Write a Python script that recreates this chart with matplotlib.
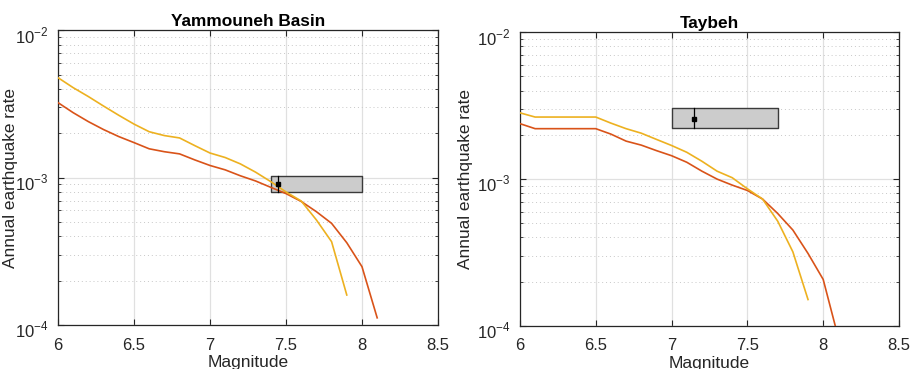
import numpy as np
import matplotlib
matplotlib.use('Agg')
import matplotlib.pyplot as plt
import matplotlib.transforms as mtransforms
from matplotlib.ticker import LogLocator, NullFormatter, FixedLocator

plt.rcParams['font.family'] = ['Liberation Sans', 'DejaVu Sans']
plt.rcParams['mathtext.fontset'] = 'custom'
plt.rcParams['mathtext.rm'] = 'Liberation Sans'

# Yammouneh Basin
mag_y = [6.0, 6.1, 6.2, 6.3, 6.4, 6.5, 6.6, 6.7, 6.8, 6.9, 7.0, 7.1, 7.2, 7.3,
         7.4, 7.5, 7.6, 7.7, 7.8, 7.9]
yam_yellow = [4.77e-3, 4.08e-3, 3.55e-3, 3.06e-3, 2.65e-3, 2.31e-3, 2.05e-3, 1.93e-3,
              1.86e-3, 1.65e-3, 1.47e-3, 1.37e-3, 1.24e-3, 1.09e-3, 9.4e-4, 8.0e-4,
              6.95e-4, 5.17e-4, 3.68e-4, 1.6e-4]
mag_r = [6.0, 6.1, 6.2, 6.3, 6.4, 6.5, 6.6, 6.7, 6.8, 6.9, 7.0, 7.1, 7.2, 7.3,
         7.4, 7.5, 7.6, 7.7, 7.8, 7.9, 8.0, 8.1]
yam_red = [3.23e-3, 2.76e-3, 2.40e-3, 2.12e-3, 1.90e-3, 1.73e-3, 1.57e-3, 1.50e-3,
           1.45e-3, 1.32e-3, 1.21e-3, 1.13e-3, 1.03e-3, 9.5e-4, 8.6e-4, 7.8e-4,
           6.9e-4, 5.88e-4, 4.9e-4, 3.62e-4, 2.49e-4, 1.12e-4]
yam_box = (7.4, 8.0, 7.94e-4, 1.03e-3)
yam_point = (7.45, 9.1e-4)

# Taybeh
tay_yellow = [2.82e-3, 2.64e-3, 2.64e-3, 2.64e-3, 2.64e-3, 2.64e-3, 2.40e-3, 2.20e-3,
              2.05e-3, 1.86e-3, 1.69e-3, 1.52e-3, 1.32e-3, 1.13e-3, 1.02e-3, 8.57e-4,
              7.3e-4, 5.16e-4, 3.19e-4, 1.51e-4]
tay_red = [2.38e-3, 2.20e-3, 2.20e-3, 2.20e-3, 2.20e-3, 2.20e-3, 2.02e-3, 1.81e-3,
           1.70e-3, 1.56e-3, 1.44e-3, 1.30e-3, 1.13e-3, 9.98e-4, 9.08e-4, 8.35e-4,
           7.3e-4, 5.82e-4, 4.49e-4, 3.11e-4, 2.07e-4, 8.3e-5]
tay_box = (7.0, 7.7, 2.24e-3, 3.04e-3)
tay_point = (7.15, 2.57e-3)

RED = '#D95319'
YELLOW = '#EDB120'


def draw(ax, title, yellow, red, box, point, ylab_x):
    ax.plot(mag_r, red, color=RED, lw=1.2, zorder=3)
    ax.plot(mag_y, yellow, color=YELLOW, lw=1.2, zorder=3)
    x0, x1, lo, hi = box
    ax.fill_between([x0, x1], lo, hi, facecolor='#cccccc', edgecolor='#3a3a3a', lw=1.0, zorder=2)
    ax.plot([point[0], point[0]], [lo, hi], color='black', lw=0.9, zorder=4)
    ax.plot(point[0], point[1], 's', color='black', ms=3.5, zorder=5)

    ax.set_yscale('log')
    ax.set_xlim(6, 8.5)
    ax.set_ylim(1e-4, 1e-2)
    ax.set_xticks([6, 6.5, 7, 7.5, 8, 8.5])
    ax.set_xticklabels(['6', '6.5', '7', '7.5', '8', '8.5'])
    ax.yaxis.set_major_locator(FixedLocator([1e-4, 1e-3, 1e-2]))
    ax.set_yticklabels([r'$10^{-4}$', r'$10^{-3}$', r'$10^{-2}$'])
    ax.yaxis.set_minor_locator(LogLocator(base=10, subs=np.arange(2, 10)))
    ax.yaxis.set_minor_formatter(NullFormatter())
    ax.grid(True, which='major', color='#e0e0e0', lw=0.9, zorder=0)
    ax.grid(True, which='minor', axis='y', color='#c8c8c8', lw=0.7, ls=(0, (1, 3)), zorder=0)
    ax.set_axisbelow(True)
    ax.tick_params(which='both', direction='in', top=True, right=True, colors='#262626',
                   labelcolor='#262626', labelsize=12)
    ax.tick_params(axis='x', pad=9)
    ax.tick_params(axis='y', pad=7)
    ax.tick_params(which='major', length=4)
    ax.tick_params(which='minor', length=2.5)
    # MATLAB puts the base of "10" near the tick, so nudge the labels down
    shift = mtransforms.ScaledTranslation(0, -0.04, ax.figure.dpi_scale_trans)
    for lab in ax.get_yticklabels():
        lab.set_transform(lab.get_transform() + shift)
    for s in ax.spines.values():
        s.set_color('#262626')
        s.set_linewidth(0.9)
    ax.set_title(title, fontsize=12.4, fontweight='bold', pad=3)
    ax.set_xlabel('Magnitude', fontsize=12.5, color='#262626', labelpad=2)
    ax.set_ylabel('Annual earthquake rate', fontsize=12.4, color='#262626')
    ax.yaxis.set_label_coords(ylab_x, 0.5)


fig = plt.figure(figsize=(9.1, 3.69), dpi=100)
ax1 = fig.add_axes([0.0637, 0.119, 0.4176, 0.799])
ax2 = fig.add_axes([0.5714, 0.117, 0.4165, 0.796])
draw(ax1, 'Yammouneh Basin', yam_yellow, yam_red, yam_box, yam_point, -0.105)
draw(ax2, 'Taybeh', tay_yellow, tay_red, tay_box, tay_point, -0.124)
fig.savefig('out.png', dpi=100)
